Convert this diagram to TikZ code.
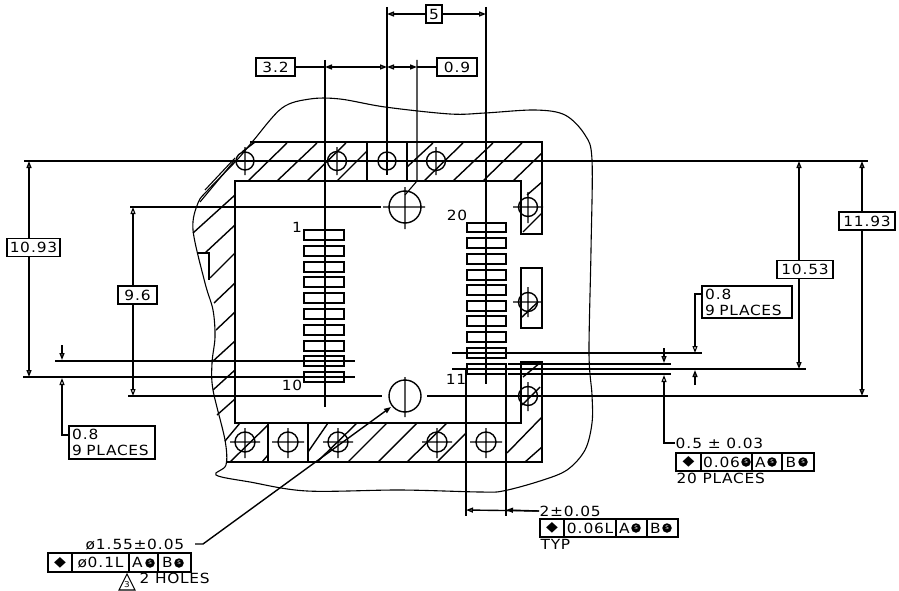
\documentclass[tikz,border=0pt]{standalone}
\usepackage{fontspec}
\setmainfont{DejaVu Sans}[LetterSpace=5,FakeStretch=1.1]
\usetikzlibrary{arrows.meta}
\newcommand{\dimtext}{\fontsize{14}{16}\selectfont}
\newcommand{\pnt}{\kern1pt.\kern1pt}
\tikzset{
	dimtip/.tip={Triangle[open,length=7pt,width=5pt]},
	solidtip/.tip={Triangle[length=7pt,width=5pt]},
	every node/.style={font=\dimtext,inner sep=0pt},
	dimbox/.style={draw=black,fill=white,line width=1.4pt,minimum height=18pt,align=left},
	fcell/.style={draw=black,fill=white,line width=1.3pt},
	srefmark/.style={circle,fill=black,text=white,minimum size=9.5pt,font=\fontsize{5}{5}\selectfont},
	hatch/.style={black,line width=1.4pt},
	thinline/.style={black,line width=1.1pt},
	every path/.append style={line width=1.4pt}
}
\begin{document}
\begin{tikzpicture}[x=1pt,y=-1pt]
		\useasboundingbox (0,0) rectangle (899,591);
		% board outline
		\draw [thinline] plot [smooth cycle,tension=0.55] coordinates {(253,141) (282,108) (310,99) (340,99) (385,107) (450,114) (485,113) (535,110) (565,115) (585,135) (592,160) (591,250) (589,353) (592,395) (592,423) (585,450) (567,470) (540,481) (503,491) (480,492) (400,490) (307,491) (250,482) (216,475) (226,465) (225,440) (213,390) (212,363) (215,337) (213,310) (205,283) (193,230) (198,203) (208,190) (237,160)};
		% socket frame
		\draw [black] (250,142) -- (542,142) -- (542,234) -- (521,234) -- (521,181) -- (235,181) -- (235,423) -- (521,423) -- (521,362) -- (542,362) -- (542,462) -- (226,462);
		\draw [black] (521,268) rectangle (542,328);
		\draw [black] (367,142) -- (367,181);
		\draw [black] (407,142) -- (407,181);
		\draw [black] (268,423) -- (268,462);
		\draw [black] (308,423) -- (308,462);
		\draw [black] (197,253) -- (209,253) -- (209,280);
		% hatching
		\draw [hatch] (248,181) -- (287,143);
		\draw [hatch] (277,181) -- (317,143);
		\draw [hatch] (307,181) -- (346,143);
		\draw [hatch] (337,181) -- (367,151);
		\draw [hatch] (407,167) -- (433,143);
		\draw [hatch] (424,181) -- (463,143);
		\draw [hatch] (453,181) -- (493,143);
		\draw [hatch] (483,181) -- (522,143);
		\draw [hatch] (513,181) -- (542,153);
		\draw [hatch] (523,232) -- (542,213);
		\draw [hatch] (527,195) -- (542,182);
		\draw [hatch] (522,317) -- (538,302);
		\draw [hatch] (523,377) -- (541,362);
		\draw [hatch] (522,405) -- (540,387);
		\draw [hatch] (507,453) -- (542,417);
		\draw [hatch] (525,462) -- (542,447);
		\draw [hatch] (225,441) -- (240,423);
		\draw [hatch] (230,462) -- (268,425);
		\draw [hatch] (262,462) -- (268,455);
		\draw [hatch] (308,452) -- (328,423);
		\draw [hatch] (317,462) -- (357,423);
		\draw [hatch] (348,462) -- (387,423);
		\draw [hatch] (378,462) -- (417,423);
		\draw [hatch] (407,462) -- (447,423);
		\draw [hatch] (437,462) -- (466,433);
		\draw [hatch] (193,233) -- (235,195);
		\draw [hatch] (205,253) -- (235,225);
		\draw [hatch] (210,278) -- (235,253);
		\draw [hatch] (214,303) -- (235,283);
		\draw [hatch] (216,330) -- (235,312);
		\draw [hatch] (212,362) -- (235,341);
		\draw [hatch] (213,390) -- (235,370);
		\draw [hatch] (217,415) -- (235,399);
		\draw [thinline] (200,202) -- (235,160);
		\draw [thinline] (205,190) -- (235,158);
		\draw [hatch] (242,152) -- (255,142);
		% holes
		\draw [black] (245,161) circle (9) (245,147) -- (245,175);
		\draw [black] (337,161) circle (9.5) (337,147) -- (337,175);
		\draw [black] (387,161) circle (9);
		\draw [black] (436,161) circle (9.5) (436,147) -- (436,175);
		\draw [black] (405,207) circle (16) (383,207) -- (425,207) (405,187) -- (405,229);
		\draw [black] (405,396) circle (16) (405,377) -- (405,417);
		\draw [black] (528,207) circle (9.5) (513,207) -- (543,207) (528,192) -- (528,223);
		\draw [black] (528,302) circle (9.5) (513,302) -- (542,302) (528,287) -- (528,317);
		\draw [black] (528,396) circle (9.5) (528,382) -- (528,411);
		\draw [black] (245,442) circle (10) (230,442) -- (260,442) (245,428) -- (245,458);
		\draw [black] (288,442) circle (10) (272,442) -- (304,442) (288,428) -- (288,458);
		\draw [black] (338,442) circle (10) (323,442) -- (353,442) (338,428) -- (338,458);
		\draw [black] (437,442) circle (10) (422,442) -- (452,442) (437,428) -- (437,458);
		\draw [black] (486,442) circle (10) (470,442) -- (502,442) (486,428) -- (486,458);
		% pads
		\draw [black] (304,230) rectangle (344,240);
		\draw [black] (304,246) rectangle (344,256);
		\draw [black] (304,262) rectangle (344,272);
		\draw [black] (304,277) rectangle (344,287);
		\draw [black] (304,293) rectangle (344,303);
		\draw [black] (304,309) rectangle (344,319);
		\draw [black] (304,325) rectangle (344,335);
		\draw [black] (304,341) rectangle (344,351);
		\draw [black] (304,356) rectangle (344,366);
		\draw [black] (304,372) rectangle (344,382);
		\draw [black] (467,223) rectangle (506,232);
		\draw [black] (467,238) rectangle (506,248);
		\draw [black] (467,254) rectangle (506,264);
		\draw [black] (467,270) rectangle (506,280);
		\draw [black] (467,285) rectangle (506,295);
		\draw [black] (467,301) rectangle (506,311);
		\draw [black] (467,316) rectangle (506,326);
		\draw [black] (467,332) rectangle (506,342);
		\draw [black] (467,348) rectangle (506,358);
		\draw [black] (467,364) rectangle (506,374);
		\node (pinone) at (297,227) {1};
		\node (pinten) at (292,385) {10};
		\node (pintwenty) at (457,215) {20};
		\node (pineleven) at (456,379) {11};
		% extension lines
		\draw [thinline] (24,161) -- (868,161);
		\draw [black] (130,207) -- (381,207);
		\draw [thinline] (128,396) -- (382,396);
		\draw [thinline] (427,396) -- (868,396);
		\draw [black] (55,361) -- (355,361);
		\draw [black] (23,377) -- (355,377);
		\draw [thinline] (452,353) -- (702,353);
		\draw [black] (508,364) -- (671,364);
		\draw [black] (452,369) -- (806,369);
		\draw [black] (508,374) -- (671,374);
		\draw [black] (325,60) -- (325,407);
		\draw [black] (387,7) -- (387,175);
		\draw [black] (486,7) -- (486,384);
		\draw [thinline] (417,60) -- (417,181) -- (405,195);
		\draw [thinline] (466,368) -- (466,516);
		\draw [black] (506,368) -- (506,516);
		% dimension labels
		\node [dimbox,minimum width=16pt] (dimfive) at (434,14) {5};
		\node [dimbox,minimum width=39pt] (dimthree) at (275.5,67) {3\pnt 2};
		\node [dimbox,minimum width=40pt] (dimnine) at (457,67) {0\pnt 9};
		\node [dimbox,minimum width=53pt] (dimleft) at (33.5,247.5) {10\pnt 93};
		\node [dimbox,minimum width=39pt] (dimmid) at (137.5,295) {9\pnt 6};
		\node [dimbox,minimum width=56pt] (dimright) at (805,269.5) {10\pnt 53};
		\node [dimbox,minimum width=56pt] (dimouter) at (867,221) {11\pnt 93};
		\node [dimbox,inner xsep=3pt,text width=80pt,minimum height=33pt] (placesleft) at (112,442.5) {0\pnt 8\\9 PLACES};
		\node [dimbox,inner xsep=3pt,text width=84pt,minimum height=32pt] (placesright) at (747,302) {0\pnt 8\\9 PLACES};
		\coordinate (fivel) at (387,14);
		\coordinate (fiver) at (486,14);
		\draw [-{dimtip}] (dimfive) -- (fivel);
		\draw [-{dimtip}] (dimfive) -- (fiver);
		\draw [{solidtip}-{dimtip}] (325,67) -- (387,67);
		\draw [black] (dimthree) -- (325,67);
		\draw [{dimtip}-{solidtip}] (387,67) -- (417,67);
		\draw [black] (417,67) -- (dimnine);
		\draw [-{dimtip}] (29,0 |- dimleft.north) -- (29,161);
		\draw [-{dimtip}] (29,0 |- dimleft.south) -- (29,377);
		\draw [-{dimtip},thinline] (133,0 |- dimmid.north) -- (133,207);
		\draw [-{dimtip},thinline] (133,0 |- dimmid.south) -- (133,396);
		\draw [-{dimtip}] (799,0 |- dimright.north) -- (799,161);
		\draw [-{dimtip}] (799,0 |- dimright.south) -- (799,369);
		\draw [-{dimtip}] (862,0 |- dimouter.north) -- (862,161);
		\draw [-{dimtip}] (862,0 |- dimouter.south) -- (862,396);
		\draw [-{dimtip}] (62,345) -- (62,360);
		\draw [-{dimtip},thinline] (placesleft.west |- 0,435) -- (62,435) -- (62,378);
		\draw [-{dimtip},thinline] (placesright.west |- 0,294) -- (695,294) -- (695,353);
		\draw [-{dimtip}] (695,385) -- (695,370);
		\draw [-{dimtip}] (664,348) -- (664,363);
		% position callouts
		\node [anchor=west] (holesize) at (85,545) {ø1\pnt 55±0\pnt 05};
		\node [fcell,minimum width=24pt,minimum height=19pt] (holepos) at (60,562.5) {◆};
		\node [fcell,minimum width=57pt,minimum height=19pt] (holetol) at (100.5,562.5) {ø0\pnt 1L};
		\node [fcell,minimum width=29pt,minimum height=19pt] (holea) at (143.5,562.5) {A\kern12pt};
		\node [fcell,minimum width=33pt,minimum height=19pt] (holeb) at (174.5,562.5) {B\kern14pt};
		\node [srefmark] (holeas) at (150,563) {S};
		\node [srefmark] (holebs) at (179,563) {S};
		\node [anchor=west] (holecount) at (139,578) {2 HOLES};
		\draw [black,fill=white,line width=1.1pt] (119,590) -- (127,574) -- (135,590) -- cycle;
		\node [font=\fontsize{8}{8}\selectfont] (holenote) at (127,585) {3};
		\coordinate (holeleader) at (195,544);
		\draw [-{solidtip}] (holeleader) -- (203,544) -- (391,407);
		\node [anchor=west] (padwidth) at (539,511) {2±0\pnt 05};
		\node [fcell,minimum width=24pt,minimum height=18pt] (padpos) at (552,528) {◆};
		\node [fcell,minimum width=52pt,minimum height=18pt] (padtol) at (590,528) {0\pnt 06L};
		\node [fcell,minimum width=31pt,minimum height=18pt] (pada) at (631.5,528) {A\kern14pt};
		\node [fcell,minimum width=31pt,minimum height=18pt] (padb) at (662.5,528) {B\kern14pt};
		\node [srefmark] (padas) at (636,528) {S};
		\node [srefmark] (padbs) at (667,528) {S};
		\node [anchor=west] (padtyp) at (540,544) {TYP};
		\draw [{dimtip}-] (466,510) -- (padwidth.west);
		\draw [-{solidtip}] (padwidth.west) -- (506,510);
		\node [anchor=west] (padpitch) at (675,443) {0\pnt 5 ± 0\pnt 03};
		\node [fcell,minimum width=25pt,minimum height=18pt] (pitchpos) at (688.5,462) {◆};
		\node [fcell,minimum width=51pt,minimum height=18pt] (pitchtol) at (726.5,462) {0\pnt 06\kern10pt};
		\node [fcell,minimum width=30pt,minimum height=18pt] (pitcha) at (767,462) {A\kern13pt};
		\node [fcell,minimum width=32pt,minimum height=18pt] (pitchb) at (798,462) {B\kern14pt};
		\node [srefmark] (pitchts) at (746,462) {S};
		\node [srefmark] (pitchas) at (772,462) {S};
		\node [srefmark] (pitchbs) at (803,462) {S};
		\node [anchor=west] (pitchcount) at (676,478) {20 PLACES};
		\draw [-{dimtip},thinline] (padpitch.west) -- (664,443) -- (664,375);
		\end{tikzpicture}
\end{document}
